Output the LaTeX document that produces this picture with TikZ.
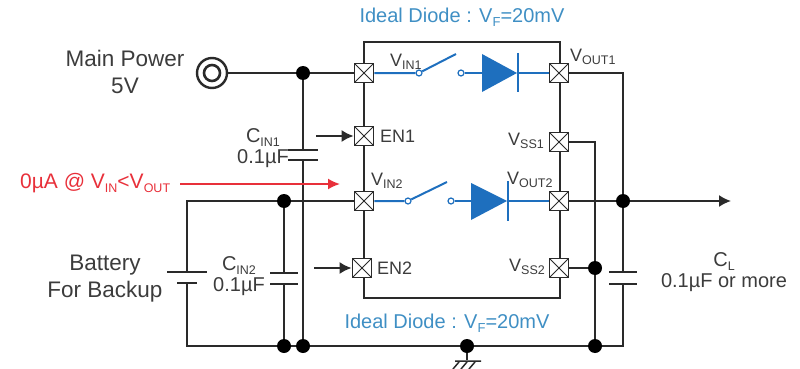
\documentclass[tikz,border=0pt]{standalone}
\usepackage{fontspec}
\setmainfont{Liberation Sans}
\usetikzlibrary{arrows.meta,calc,backgrounds}
\definecolor{ink}{HTML}{2A2A2A}
\definecolor{txt}{HTML}{3C3C3C}
\definecolor{bl}{HTML}{1E6FBE}
\definecolor{bltxt}{HTML}{3F8FC4}
\definecolor{redt}{HTML}{E8303A}
\newcommand{\lbl}[2]{#1\raisebox{-0.2em}{\fontsize{12.5}{13}\selectfont #2}}
\tikzset{
 x=1pt,y=-1pt,
 wire/.style={draw=ink,line width=1.8pt},
 bwire/.style={draw=bl,line width=2pt},
 pinbox/.style={draw=ink,line width=1.8pt,fill=white,minimum size=19pt,inner sep=0pt,
   path picture={\draw[ink,line width=1pt] (path picture bounding box.north west)--(path picture bounding box.south east)
     (path picture bounding box.north east)--(path picture bounding box.south west);}},
 sdot/.style={circle,fill=black,inner sep=0pt,minimum size=14pt},
 term/.style={circle,draw=bl,fill=white,line width=1.2pt,inner sep=0pt,minimum size=6pt},
 tx/.style={text=txt,font=\fontsize{20}{21}\selectfont,inner sep=0pt,align=center},
 bigtx/.style={text=txt,font=\fontsize{22.5}{27}\selectfont,inner sep=0pt,align=center},
 pintx/.style={text=txt,font=\fontsize{18}{22}\selectfont,inner sep=0pt,anchor=west},
 btx/.style={text=bltxt,font=\fontsize{20}{24}\selectfont,inner sep=0pt},
 plate/.style={draw=ink,line width=2.6pt},
 thin plate/.style={draw=ink,line width=1.8pt},
 arr/.style={draw=ink,line width=1.8pt,-{Latex[length=12pt,width=12pt]}},
}
\begin{document}
\begin{tikzpicture}
\useasboundingbox (0,0) rectangle (800,369);
\coordinate (bTL) at (364,42); \coordinate (bTR) at (560,42);
\coordinate (bBL) at (364,298); \coordinate (bBR) at (560,298);
% junctions
\node[sdot] (j1) at (303,73) {};
\node[sdot] (j2) at (284,201) {};
\node[sdot] (j3) at (623,201) {};
\node[sdot] (j4) at (595,268) {};
\node[sdot] (j5) at (284,346) {};
\node[sdot] (j6) at (303,346) {};
\node[sdot] (j7) at (467,346) {};
\node[sdot] (j8) at (595,346) {};
% source
\node[circle,draw=ink,line width=2.4pt,minimum size=30pt,inner sep=0pt] (src) at (212,73) {};
\node[circle,draw=ink,line width=2.6pt,minimum size=16pt,inner sep=0pt] at (212,73) {};
% pins
\node[pinbox] (vin1) at (364,73) {};
\node[pinbox] (en1) at (364,136) {};
\node[pinbox] (vin2) at (364,201) {};
\node[pinbox] (en2) at (362,268) {};
\node[pinbox] (vout1) at (559,73) {};
\node[pinbox] (vss1) at (559,142) {};
\node[pinbox] (vout2) at (559,201) {};
\node[pinbox] (vss2) at (559,268) {};
% free coordinates
\coordinate (c1t) at (303,150); \coordinate (c1b) at (303,160);
\coordinate (c2t) at (284,273); \coordinate (c2b) at (284,284);
\coordinate (ct) at (623,272); \coordinate (cb) at (623,284);
\coordinate (bt) at (187,272); \coordinate (bb) at (187,283);
\coordinate (corner1) at (187,201); \coordinate (corner2) at (187,346);
\coordinate (rc) at (623,346);
\coordinate (end) at (731,201);
\coordinate (g) at (467,360);
% wires, under the dots and pins
\begin{scope}[on background layer]
\draw[wire] (bTL) -- (bTR) -- (bBR) -- (bBL) -- cycle;
\draw[wire] (src) -- (vin1);
\draw[wire] (j1) -- (c1t) (c1b) -- (j6);
\draw[wire] (vout1) -| (j3);
\draw[wire] (vss1) -| (j8);
\draw[wire] (vss2) -- (j4);
\draw[wire] (j3) -- (ct) (cb) -- (rc) -- (j8);
\draw[wire] (j8) -- (j7) -- (j6) -- (j5) -- (corner2) -- (bb);
\draw[wire] (bt) -- (corner1) -- (j2) -- (vin2);
\draw[wire] (j2) -- (c2t) (c2b) -- (j5);
\draw[wire] (j7) -- (g);
\draw[arr] (vout2) -- (end);
\end{scope}
\draw[arr] (316,136) -- (en1);
\draw[arr] (314,268) -- (en2);
\draw[-{Latex[length=12pt,width=11pt]},draw=redt,fill=redt,line width=1.8pt] (180,184) -- (340,184);
% plates
\draw[plate] (288,150) -- (318,150) (288,160) -- (318,160);
\draw[plate] (270,273) -- (298,273) (270,284) -- (298,284);
\draw[plate] (609,272) -- (637,272) (609,284) -- (637,284);
\draw[thin plate] (167,272) -- (207,272) (177,283) -- (197,283);
% ground
\draw[draw=ink,line width=1.5pt] (455,361) -- (481,361) (453,369) -- (459,362) (461,369) -- (467,362) (469,369) -- (475,362);
% channel 1
\node[term] (s1a) at (419,73) {};
\node[term] (s1b) at (461,73) {};
\coordinate (s1e) at (456,54);
\coordinate (d1a) at (482,73); \coordinate (d1k) at (517,73);
\draw[bwire] (vin1) -- (s1a) -- (s1e);
\draw[bwire] (s1b) -- (d1a);
\draw[bwire] (d1k) -- (vout1);
\fill[bl] (482,54) -- (d1k) -- (482,92) -- cycle;
\draw[bl,line width=2.2pt] (518,53) -- (518,92);
% channel 2
\node[term] (s2a) at (408,201) {};
\node[term] (s2b) at (451,201) {};
\coordinate (s2e) at (447,182);
\coordinate (d2a) at (471,201); \coordinate (d2k) at (507,201);
\draw[bwire] (vin2) -- (s2a) -- (s2e);
\draw[bwire] (s2b) -- (d2a);
\draw[bwire] (d2k) -- (vout2);
\fill[bl] (471,183) -- (d2k) -- (471,220) -- cycle;
\draw[bl,line width=2.2pt] (508,181) -- (508,221);
% labels
\node[bigtx] at (125,71.5) {Main Power\\5V};
\node[btx] at (462,17) {Ideal Diode : V\raisebox{-0.2em}{\fontsize{13}{13}\selectfont F}=20mV};
\node[btx] at (447,323) {Ideal Diode : V\raisebox{-0.2em}{\fontsize{13}{13}\selectfont F}=20mV};
\node[pintx] at (390,62) {\lbl{V}{IN1}};
\node[pintx] at (371,181) {\lbl{V}{IN2}};
\node[pintx] at (570,57) {\lbl{V}{OUT1}};
\node[pintx] at (507,180) {\lbl{V}{OUT2}};
\node[pintx] at (508,141) {\lbl{V}{SS1}};
\node[pintx] at (509,267) {\lbl{V}{SS2}};
\node[pintx] at (380,136) {EN1};
\node[pintx] at (377,268) {EN2};
\node[tx] at (263,148) {\lbl{C}{IN1}\\0.1µF};
\node[tx] at (239,276.5) {\lbl{C}{IN2}\\0.1µF};
\node[tx] at (724,272.5) {\lbl{C}{L}\\0.1µF or more};
\node[bigtx] at (105,278.5) {Battery\\For Backup};
\node[tx,anchor=west,text=redt,font=\fontsize{21}{24}\selectfont] at (20,183) {0µA @ \lbl{V}{IN}<\lbl{V}{OUT}};
\end{tikzpicture}
\end{document}
